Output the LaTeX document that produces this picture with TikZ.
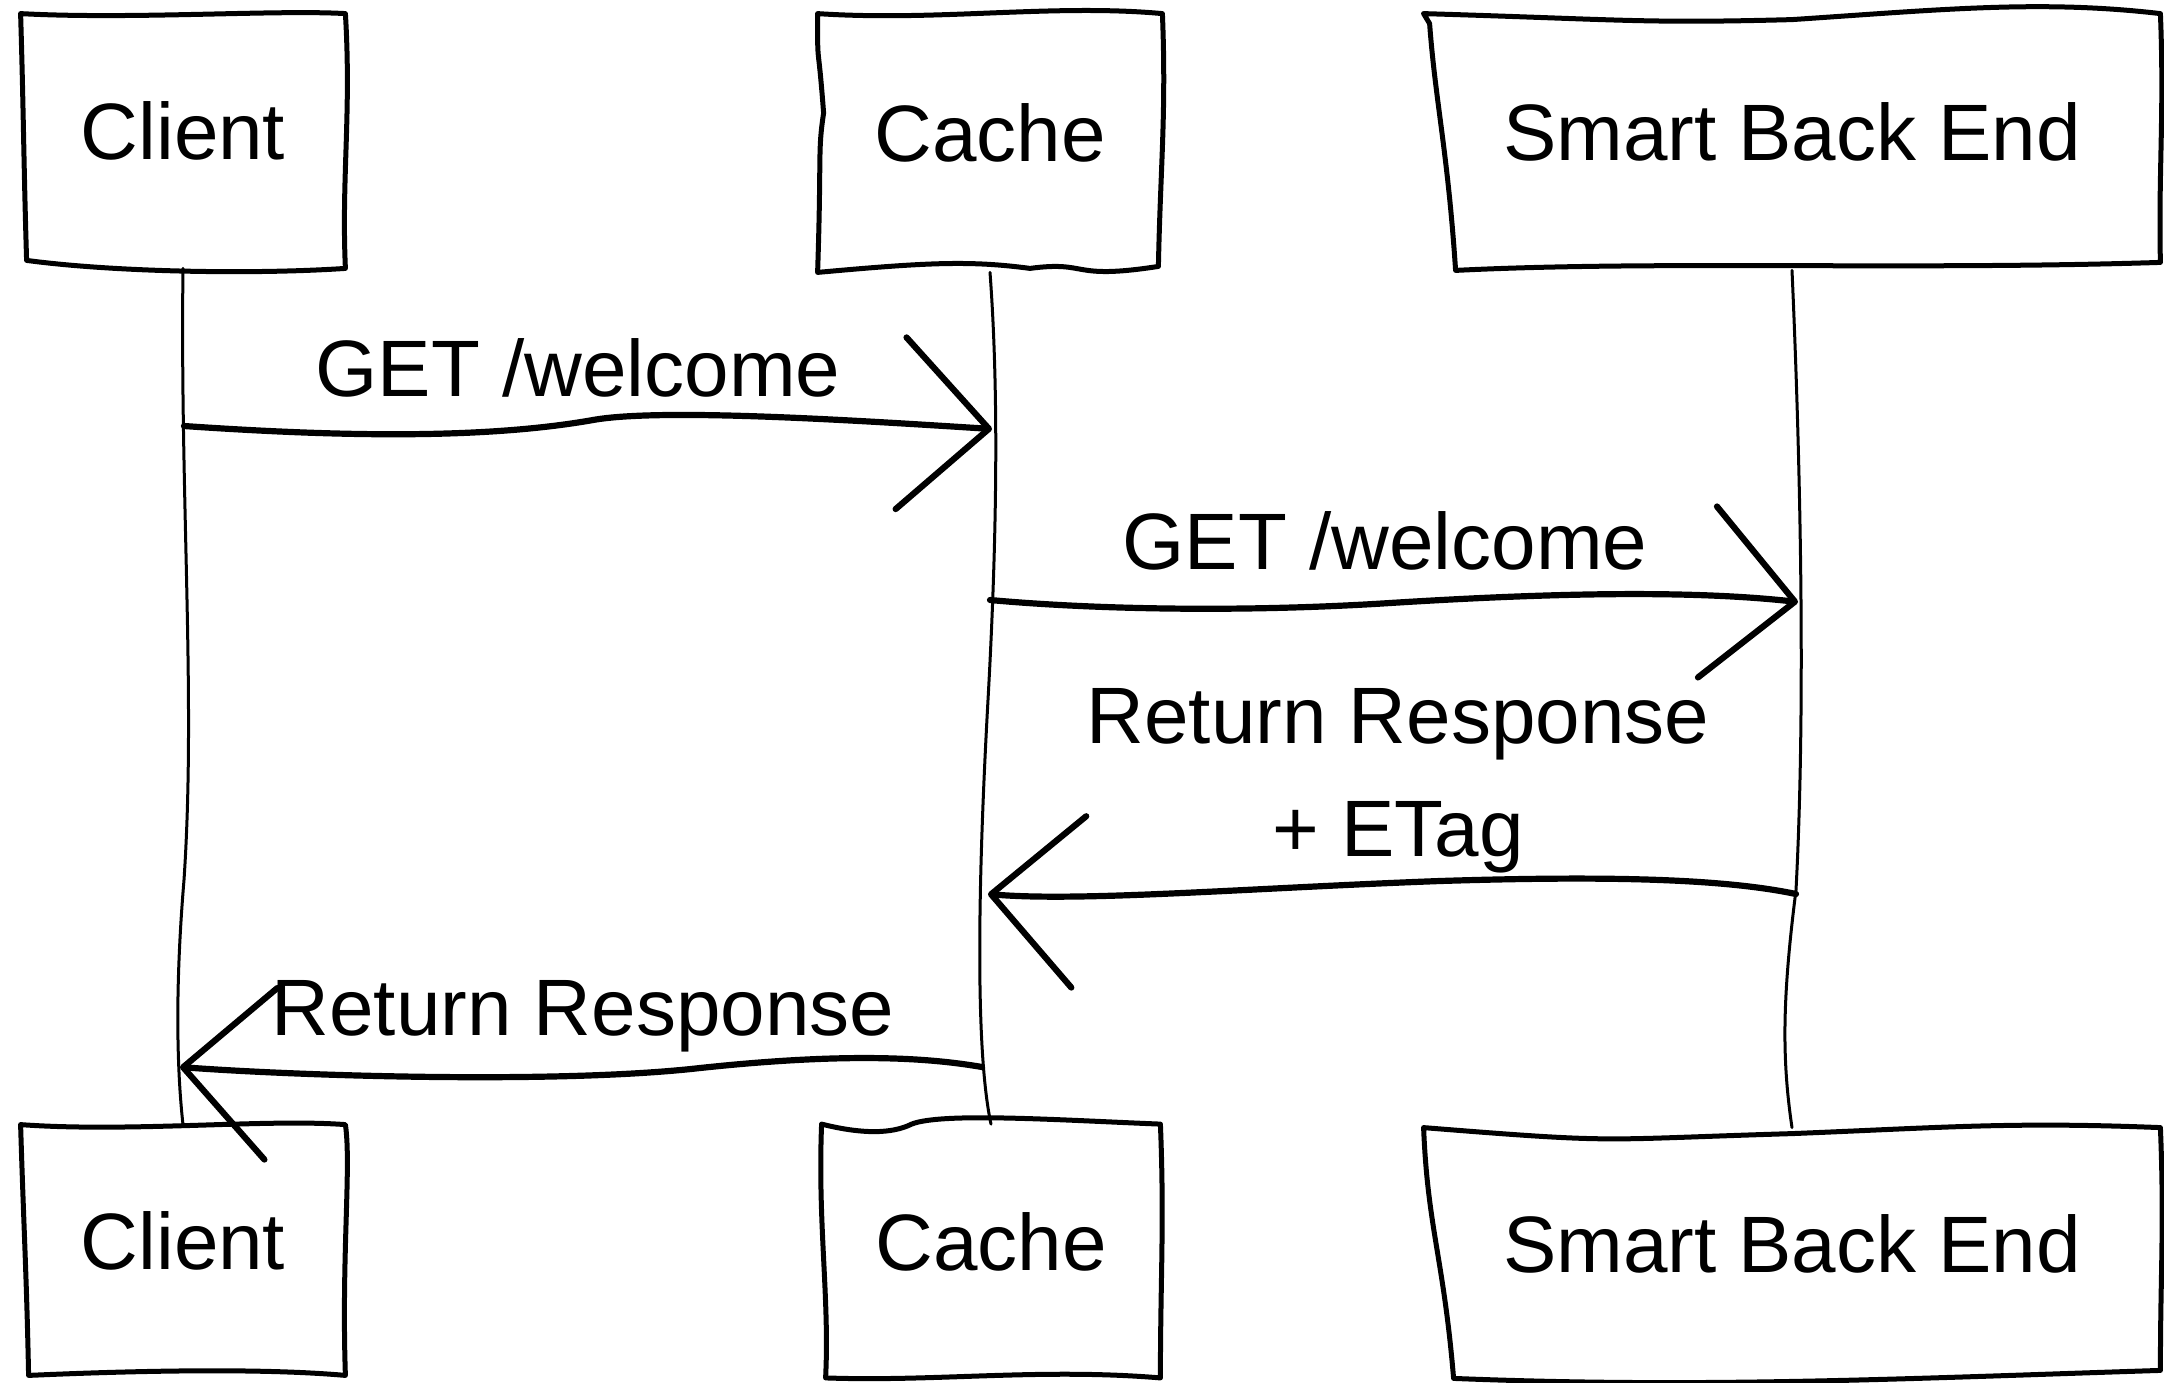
\documentclass[tikz,border=0pt]{standalone}
\usepackage{fontspec}
\setmainfont{Liberation Sans}
\usetikzlibrary{arrows.meta,calc}
\begin{document}
\begin{tikzpicture}[x=0.5pt,y=-0.5pt,
  actorbox/.style={draw=none, inner sep=0pt, text depth=10pt,
    font=\fontsize{40}{48}\selectfont},
  sketch/.style={line width=2.5pt, line cap=round, line join=round},
  life/.style={line width=1.5pt, line cap=round},
  msg/.style={line width=3.1pt, line cap=round, line join=round,
    -{Straight Barb[length=44pt,width=86pt,round]}},
  msglabel/.style={inner sep=0pt, font=\fontsize{40}{56.5}\selectfont}]
\useasboundingbox (0,0) rectangle (2164,1382);

% participants, top row
\node[actorbox, minimum width=162pt, minimum height=127pt] (ct) at (183,141) {Client};
\node[actorbox, minimum width=172pt, minimum height=129pt] (cct) at (990,143) {Cache};
\node[actorbox, minimum width=368pt, minimum height=128pt] (sbt) at (1792,142) {Smart Back End};
% participants, bottom row
\node[actorbox, minimum width=162pt, minimum height=125pt] (cb) at (183,1250) {Client};
\node[actorbox, minimum width=169pt, minimum height=126.5pt] (ccb) at (991,1251) {Cache};
\node[actorbox, minimum width=368pt, minimum height=125pt] (sbb) at (1792,1253) {Smart Back End};

% hand-drawn outlines of the participant boxes
\draw[sketch] (ct.north west) .. controls +(110,6) and +(-70,-4) .. (ct.north east)
  .. controls +(6,100) and +(-4,-90) .. (ct.south east)
  .. controls +(-90,6) and +(90,12) .. ($(ct.south west)+(6,-8)$)
  .. controls +(-3,-100) and +(3,100) .. (ct.north west);
\draw[sketch] (cct.north west) .. controls +(120,8) and +(-110,-10) .. (cct.north east)
  .. controls +(4,100) and +(2,-100) .. ($(cct.south east)+(-4,-6)$)
  .. controls +(-90,14) and +(60,-8) .. ($(cct.south)+(40,-4)$)
  .. controls +(-60,-8) and +(110,-10) .. (cct.south west)
  .. controls +(4,-120) and +(-6,40) .. ($(cct.west)+(6,-30)$)
  .. controls +(-6,-80) and +(0,60) .. (cct.north west);
\draw[sketch] (sbt.north west) .. controls +(200,6) and +(-150,4) .. ($(sbt.north)+(0,6)$)
  .. controls +(150,-10) and +(-120,-14) .. (sbt.north east)
  .. controls +(4,100) and +(-2,-90) .. ($(sbt.south east)+(0,-8)$)
  .. controls +(-250,8) and +(200,-10) .. ($(sbt.south west)+(32,0)$)
  .. controls +(-8,-120) and +(6,80) .. ($(sbt.north west)+(6,10)$) -- (sbt.north west);

\draw[sketch] (cb.north west) .. controls +(110,8) and +(-80,-6) .. (cb.north east)
  .. controls +(6,40) and +(-4,-120) .. (cb.south east)
  .. controls +(-90,-8) and +(90,-4) .. ($(cb.south west)+(8,0)$)
  .. controls +(-2,-100) and +(3,100) .. (cb.north west);
\draw[sketch] (ccb.north west) .. controls +(40,10) and +(-20,10) .. ($(ccb.north west)+(90,0)$)
  .. controls +(30,-12) and +(-100,-4) .. (ccb.north east)
  .. controls +(4,100) and +(0,-100) .. (ccb.south east)
  .. controls +(-120,-10) and +(110,4) .. ($(ccb.south west)+(4,0)$)
  .. controls +(4,-80) and +(-4,100) .. (ccb.north west);
\draw[sketch] (sbb.north west) .. controls +(200,16) and +(-200,6) .. ($(sbb.north)+(0,6)$)
  .. controls +(150,-6) and +(-150,-6) .. (sbb.north east)
  .. controls +(4,100) and +(0,-100) .. ($(sbb.south east)+(0,-8)$)
  .. controls +(-250,8) and +(250,10) .. ($(sbb.south west)+(30,0)$)
  .. controls +(-10,-120) and +(4,100) .. (sbb.north west);

% lifelines
\draw[life] (ct.south) .. controls (180,500) and (196,700) .. (184,880)
  .. controls (174,1000) and (178,1080) .. (cb.north);
\draw[life] (cct.south) .. controls (998,380) and (998,520) .. (988,700)
  .. controls (978,880) and (975,1050) .. (ccb.north);
\draw[life] (sbt.south) .. controls (1800,450) and (1806,700) .. (1796,890)
  .. controls (1782,1000) and (1782,1060) .. (sbb.north);

% message end points on the lifelines
\coordinate (a1s) at (184,426);
\coordinate (a1e) at (992,429);
\coordinate (a2s) at (990,600);
\coordinate (a2e) at (1798,602);
\coordinate (a3s) at (1796,894);
\coordinate (a3e) at (988,894);
\coordinate (a4s) at (982,1067);
\coordinate (a4e) at (180,1067);

% messages
\draw[msg] (a1s) .. controls (330,436) and (480,440) .. (593,420)
  .. controls (660,408) and (850,420) .. (a1e);
\draw[msg] (a2s) .. controls (1100,610) and (1250,612) .. (1390,603)
  .. controls (1550,593) and (1690,590) .. (a2e);
\draw[msg] (a3s) .. controls (1720,878) and (1600,876) .. (1440,881)
  .. controls (1250,888) and (1080,902) .. (a3e);
\draw[msg] (a4s) .. controls (930,1058) and (850,1052) .. (700,1068)
  .. controls (560,1084) and (300,1076) .. (a4e);

% message labels
\node[msglabel, anchor=base] (l1) at (578,396) {GET /welcome};
\node[msglabel, anchor=base] (l2) at (1385,569) {GET /welcome};
\node[msglabel, align=center] (l3) at (1398,781) {Return Response\\+ ETag};
\node[msglabel, anchor=base] (l4) at (583,1035) {Return Response};
\end{tikzpicture}
\end{document}
